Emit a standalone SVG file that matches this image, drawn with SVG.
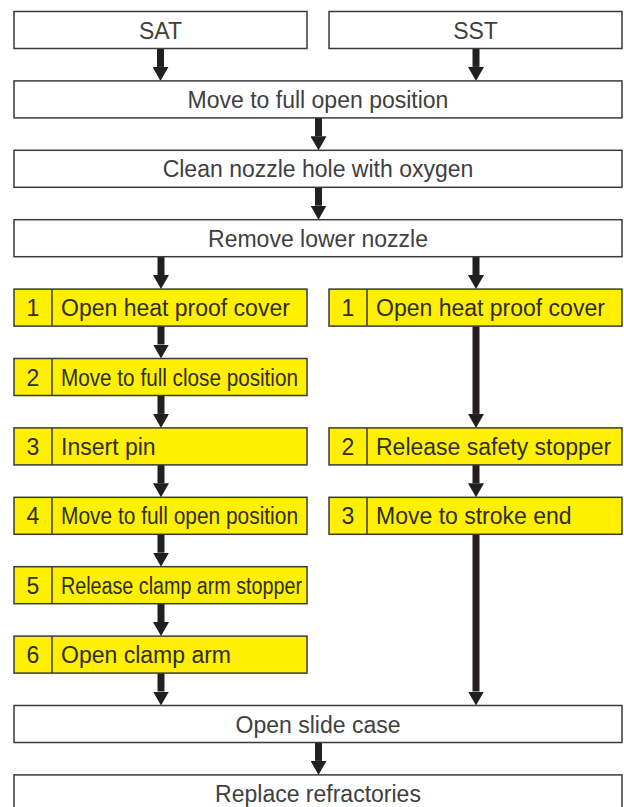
<svg xmlns="http://www.w3.org/2000/svg" width="624" height="807" viewBox="0 0 624 807">
<defs>
<style>
.box{fill:#ffffff;stroke:#3a3a3a;stroke-width:1.5}
.ybox{fill:#fff000;stroke:#3a3a3a;stroke-width:1.5}
.div{stroke:#3a3a3a;stroke-width:1.5}
.t{font-family:"Liberation Sans",Arial,sans-serif;font-size:23px;fill:#404040}
.yt{font-family:"Liberation Sans",Arial,sans-serif;font-size:23px;fill:#2e2e22}
.c{text-anchor:middle}
.a{stroke:#231f20;stroke-width:7;fill:none;marker-end:url(#ah)}
</style>
<marker id="ah" viewBox="0 0 14 16" refX="0" refY="8" markerWidth="14" markerHeight="16" orient="auto" markerUnits="userSpaceOnUse">
<path d="M0,0 L14,8 L0,16 Z" fill="#231f20"/>
</marker>
</defs>

<g id="connectors">
<line class="a" x1="160.5" y1="48.5" x2="160.5" y2="66.9"/>
<line class="a" x1="476" y1="48.5" x2="476" y2="66.9"/>
<line class="a" x1="318.5" y1="117.9" x2="318.5" y2="136.3"/>
<line class="a" x1="318.5" y1="187.3" x2="318.5" y2="205.7"/>
<line class="a" x1="161" y1="256.7" x2="161" y2="275.1"/>
<line class="a" x1="476" y1="256.7" x2="476" y2="275.1"/>
<line class="a" x1="161" y1="326.1" x2="161" y2="344.5"/>
<line class="a" x1="161" y1="395.5" x2="161" y2="413.9"/>
<line class="a" x1="161" y1="464.9" x2="161" y2="483.3"/>
<line class="a" x1="161" y1="534.3" x2="161" y2="552.7"/>
<line class="a" x1="161" y1="603.7" x2="161" y2="622.1"/>
<line class="a" x1="161" y1="673.1" x2="161" y2="691.5"/>
<line class="a" x1="476" y1="326.1" x2="476" y2="413.9"/>
<line class="a" x1="476" y1="464.9" x2="476" y2="483.3"/>
<line class="a" x1="476" y1="534.3" x2="476" y2="691.5"/>
<line class="a" x1="318.5" y1="742.5" x2="318.5" y2="760.9"/>
</g>

<g id="sat"><rect class="box" x="14" y="11.5" width="293" height="37"/><text class="t c" x="160.5" y="38.5">SAT</text></g>
<g id="sst"><rect class="box" x="329" y="11.5" width="293" height="37"/><text class="t c" x="475.5" y="38.5">SST</text></g>
<g id="move-open"><rect class="box" x="14" y="80.9" width="608" height="37"/><text class="t c" x="318" y="107.9">Move to full open position</text></g>
<g id="clean"><rect class="box" x="14" y="150.3" width="608" height="37"/><text class="t c" x="318" y="177.3">Clean nozzle hole with oxygen</text></g>
<g id="remove"><rect class="box" x="14" y="219.7" width="608" height="37"/><text class="t c" x="318" y="246.7">Remove lower nozzle</text></g>

<g id="l1"><rect class="ybox" x="14" y="289.1" width="293" height="37"/><line class="div" x1="52" y1="289.1" x2="52" y2="326.1"/><text class="yt c" x="33" y="316.1">1</text><text class="yt" x="61" y="316.1">Open heat proof cover</text></g>
<g id="l2"><rect class="ybox" x="14" y="358.5" width="293" height="37"/><line class="div" x1="52" y1="358.5" x2="52" y2="395.5"/><text class="yt c" x="33" y="385.5">2</text><text class="yt" x="61" y="385.5" textLength="237" lengthAdjust="spacingAndGlyphs">Move to full close position</text></g>
<g id="l3"><rect class="ybox" x="14" y="427.9" width="293" height="37"/><line class="div" x1="52" y1="427.9" x2="52" y2="464.9"/><text class="yt c" x="33" y="454.9">3</text><text class="yt" x="61" y="454.9">Insert pin</text></g>
<g id="l4"><rect class="ybox" x="14" y="497.3" width="293" height="37"/><line class="div" x1="52" y1="497.3" x2="52" y2="534.3"/><text class="yt c" x="33" y="524.3">4</text><text class="yt" x="61" y="524.3" textLength="237" lengthAdjust="spacingAndGlyphs">Move to full open position</text></g>
<g id="l5"><rect class="ybox" x="14" y="566.7" width="293" height="37"/><line class="div" x1="52" y1="566.7" x2="52" y2="603.7"/><text class="yt c" x="33" y="593.7">5</text><text class="yt" x="61" y="593.7" textLength="241" lengthAdjust="spacingAndGlyphs">Release clamp arm stopper</text></g>
<g id="l6"><rect class="ybox" x="14" y="636.1" width="293" height="37"/><line class="div" x1="52" y1="636.1" x2="52" y2="673.1"/><text class="yt c" x="33" y="663.1">6</text><text class="yt" x="61" y="663.1">Open clamp arm</text></g>

<g id="r1"><rect class="ybox" x="329" y="289.1" width="293" height="37"/><line class="div" x1="367" y1="289.1" x2="367" y2="326.1"/><text class="yt c" x="348" y="316.1">1</text><text class="yt" x="376" y="316.1">Open heat proof cover</text></g>
<g id="r2"><rect class="ybox" x="329" y="427.9" width="293" height="37"/><line class="div" x1="367" y1="427.9" x2="367" y2="464.9"/><text class="yt c" x="348" y="454.9">2</text><text class="yt" x="376" y="454.9">Release safety stopper</text></g>
<g id="r3"><rect class="ybox" x="329" y="497.3" width="293" height="37"/><line class="div" x1="367" y1="497.3" x2="367" y2="534.3"/><text class="yt c" x="348" y="524.3">3</text><text class="yt" x="376" y="524.3">Move to stroke end</text></g>

<g id="open-slide"><rect class="box" x="14" y="705.5" width="608" height="37"/><text class="t c" x="318" y="732.5">Open slide case</text></g>
<g id="replace"><rect class="box" x="14" y="774.9" width="608" height="37"/><text class="t c" x="318" y="801.9">Replace refractories</text></g>
</svg>
